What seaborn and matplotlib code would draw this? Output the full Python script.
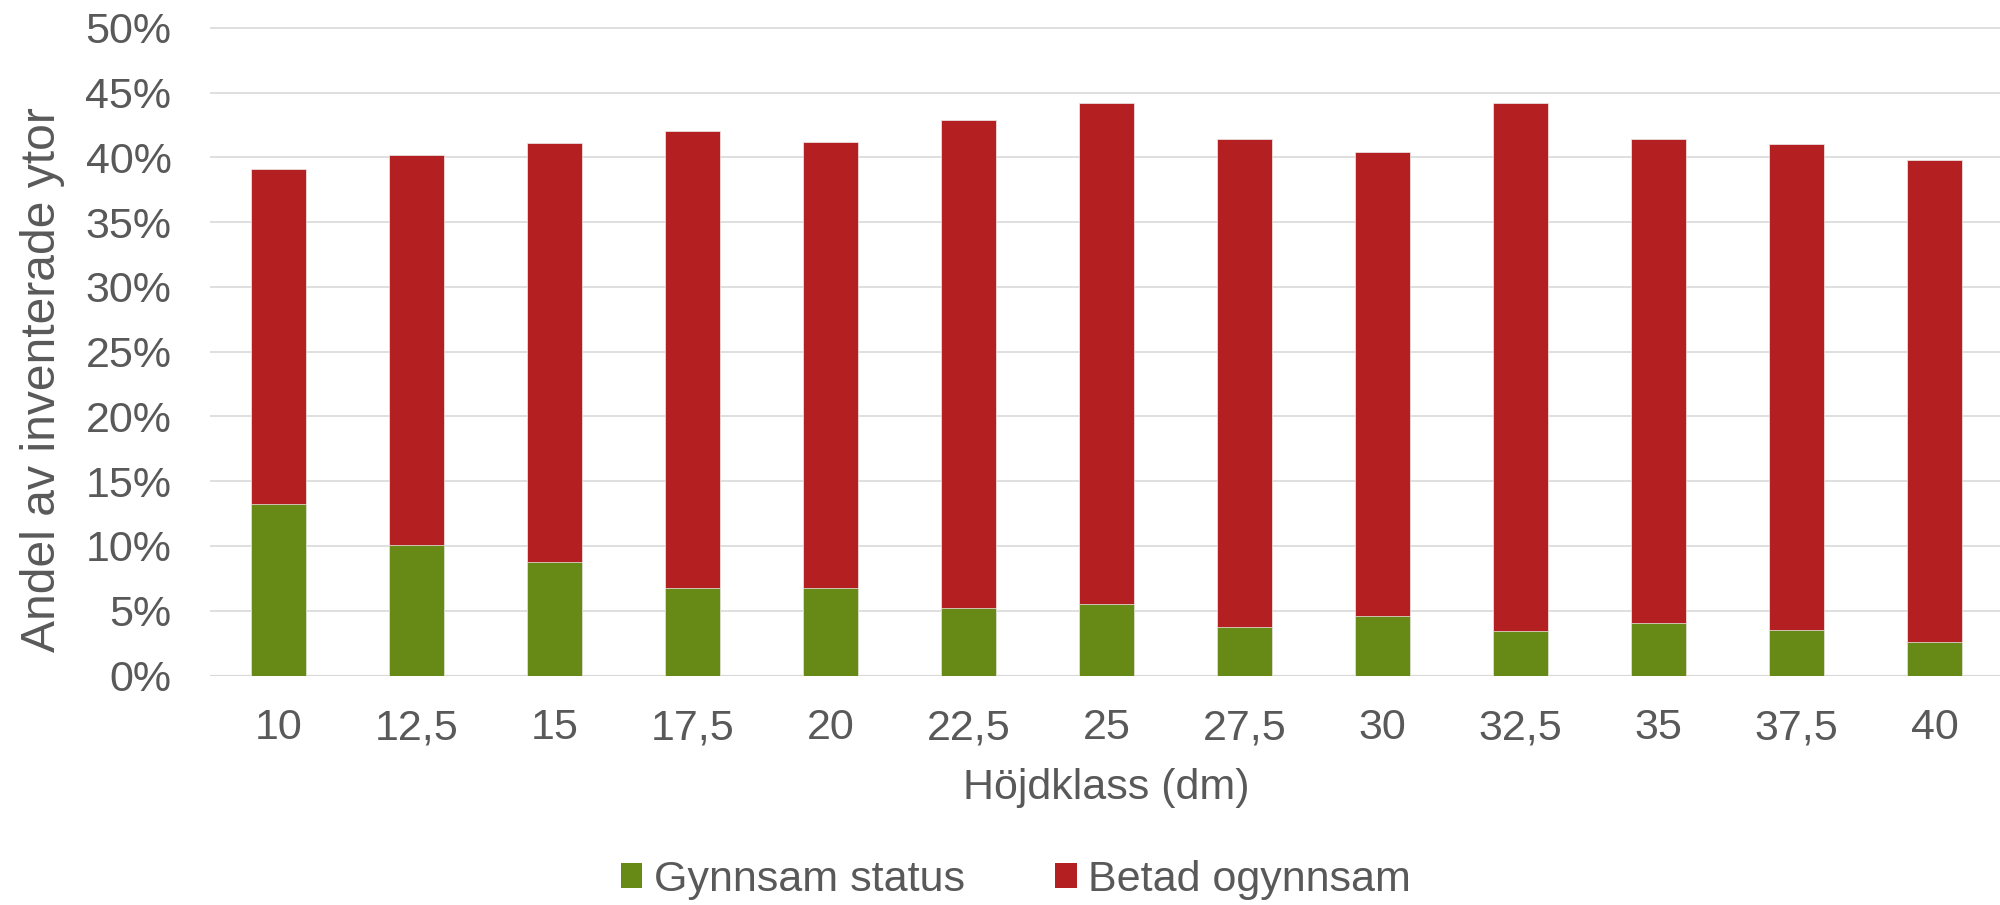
import matplotlib
matplotlib.use("Agg")
import matplotlib.pyplot as plt
from matplotlib.patches import Patch
from matplotlib.ticker import FuncFormatter, MultipleLocator
import seaborn as sns
import pandas as pd

# ---- data ----
categories = ["10", "12,5", "15", "17,5", "20", "22,5", "25", "27,5", "30", "32,5", "35", "37,5", "40"]
gynnsam = [13.25, 10.09, 8.78, 6.78, 6.78, 5.24, 5.55, 3.72, 4.62, 3.41, 4.03, 3.55, 2.55]
betad = [25.82, 30.08, 32.32, 35.29, 34.42, 37.62, 38.68, 37.73, 35.83, 40.79, 37.38, 37.48, 37.25]
series_names = ["Gynnsam status", "Betad ogynnsam"]
y_label = "Andel av inventerade ytor"
x_label = "Höjdklass (dm)"

GREEN = "#678A17"
RED = "#B41F21"
TEXT = "#595959"
GRID = "#D9D9D9"

sns.set_style("white")
plt.rcParams["font.family"] = ["Liberation Sans", "DejaVu Sans"]

df = pd.DataFrame({"klass": categories, "gynnsam": gynnsam, "betad": betad})
df["total"] = df["gynnsam"] + df["betad"]

fig = plt.figure(figsize=(20, 9.05), dpi=100)
W, H = 2000, 905
left_px, right_px, top_px, bot_px = 209.5, 2003.5, 27.2, 675.5
ax_h = bot_px - top_px
ax = fig.add_axes([left_px / W, 1 - bot_px / H, (right_px - left_px) / W, ax_h / H])

sns.barplot(data=df, x="klass", y="total", color=RED, width=0.4, saturation=1,
            edgecolor="#EDEDED", linewidth=0.5, ax=ax, zorder=3)
sns.barplot(data=df, x="klass", y="gynnsam", color=GREEN, width=0.4, saturation=1,
            edgecolor="#EDEDED", linewidth=0.5, ax=ax, zorder=4)

ax.set_xlim(-0.5, len(categories) - 0.5)
ax.set_ylim(0, 50.05)
ax.yaxis.set_major_locator(MultipleLocator(5))
ax.yaxis.set_major_formatter(FuncFormatter(lambda v, p: f"{v:.0f}%"))
ax.grid(axis="y", color=GRID, linewidth=1.2, zorder=0)
ax.grid(axis="x", visible=False)
ax.set_axisbelow(True)
for s in ax.spines.values():
    s.set_visible(False)
ax.axhline(0, color=GRID, linewidth=1.6, zorder=1)

ax.tick_params(axis="x", length=0, pad=23.5, labelsize=31, labelcolor=TEXT)
ax.tick_params(axis="y", length=0, pad=27.4, labelsize=31, labelcolor=TEXT)

ax.set_xlabel(x_label, fontsize=31, color=TEXT, va="baseline")
ax.xaxis.set_label_coords(0.5, (bot_px - 799) / ax_h)
ax.set_ylabel(y_label, fontsize=34.6, color=TEXT)
ax.yaxis.set_label_coords((65 - left_px) / (right_px - left_px), (bot_px - 380) / ax_h)

handles = [Patch(facecolor=GREEN, edgecolor="none"), Patch(facecolor=RED, edgecolor="none")]
fig.legend(handles, series_names, loc="center", bbox_to_anchor=(1016 / W, 1 - 880 / H),
           ncol=2, frameon=False, fontsize=31, labelcolor=TEXT,
           handlelength=0.5, handleheight=0.5, handletextpad=0.27, columnspacing=2.1,
           borderpad=0, borderaxespad=0)

fig.savefig("out.png", dpi=100, facecolor="white")
